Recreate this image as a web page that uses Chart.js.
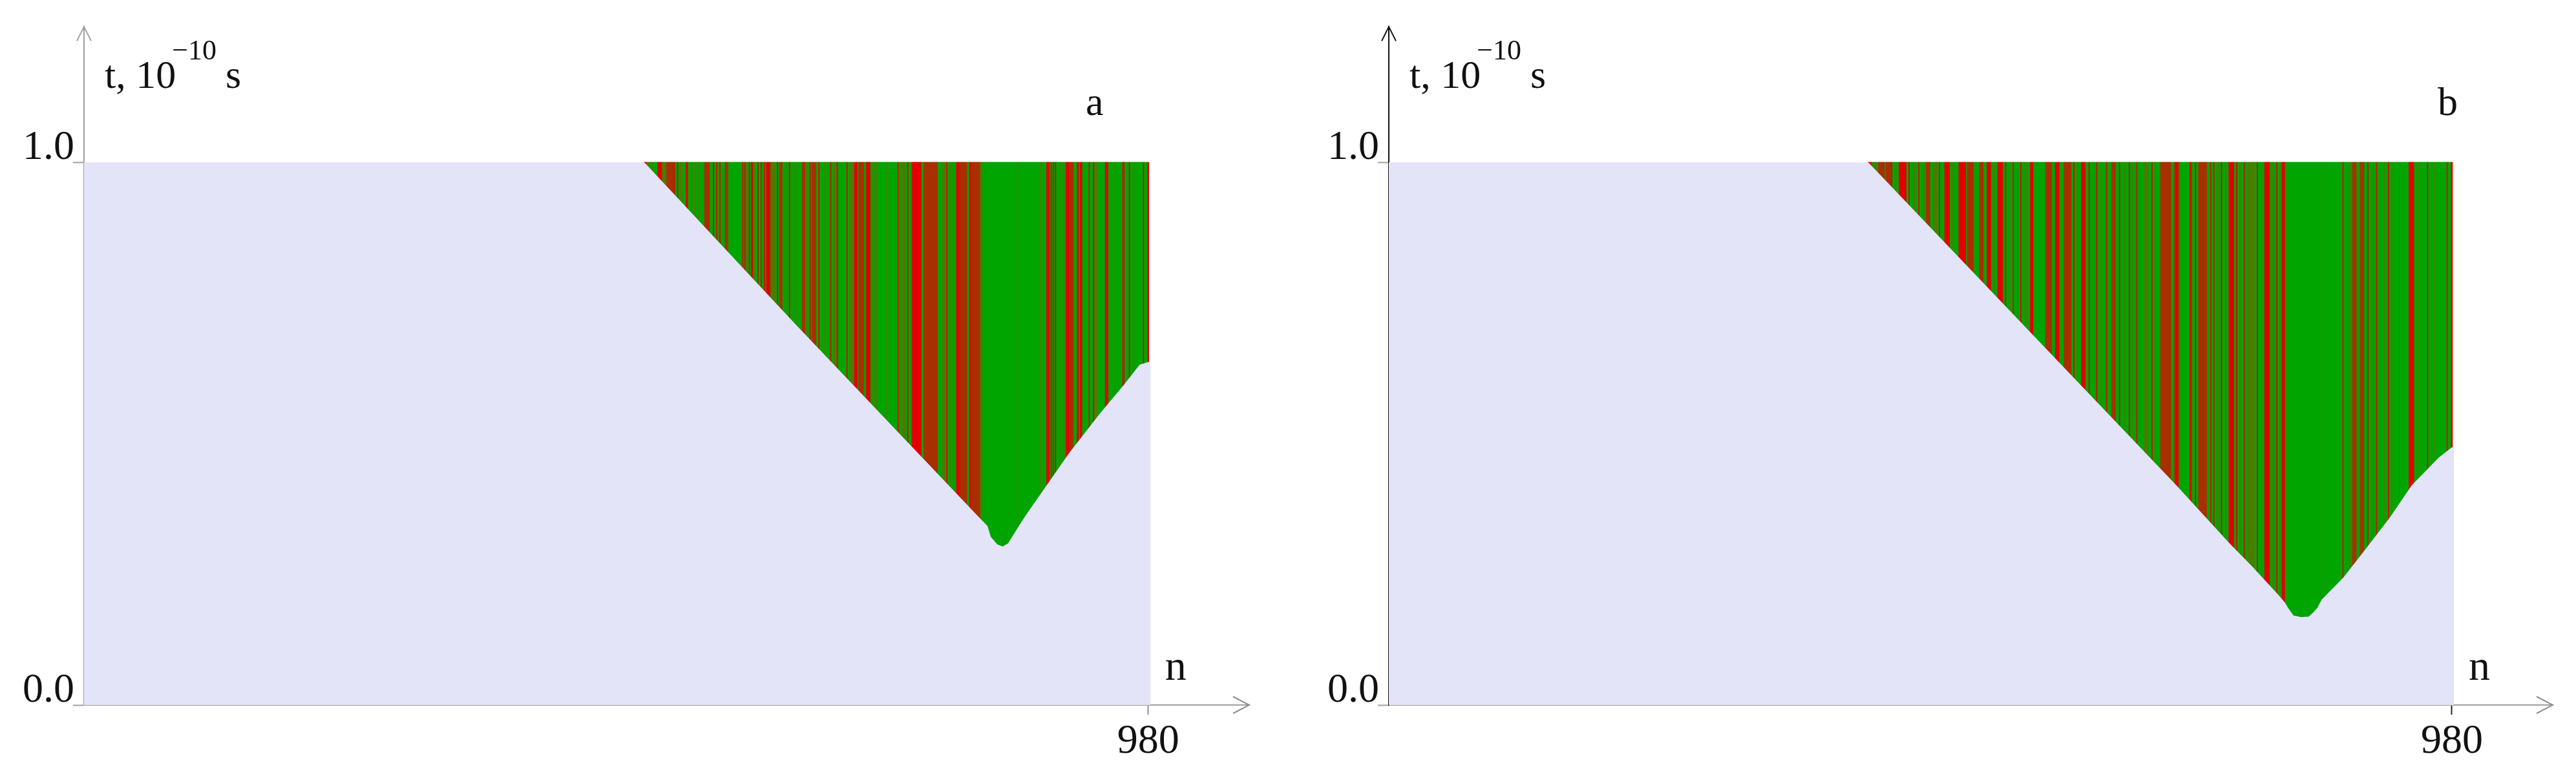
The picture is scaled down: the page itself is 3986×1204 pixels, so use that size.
<!DOCTYPE html>
<html>
<head>
<meta charset="utf-8">
<title>t(n)</title>
<script src="https://cdn.jsdelivr.net/npm/chart.js@4.4.1/dist/chart.umd.min.js"></script>
<style>
  body { margin: 0; background: #ffffff; }
  #wrap { position: relative; width: 3986px; height: 1204px; }
  .panel { position: absolute; top: 0; height: 1204px; }
  #panel-a { left: 0; width: 2019px; }
  #panel-b { left: 2019px; width: 1967px; }
</style>
</head>
<body>
<div id="wrap">
  <div class="panel" id="panel-a"><canvas id="chart-a"></canvas></div>
  <div class="panel" id="panel-b"><canvas id="chart-b"></canvas></div>
</div>
<script>
// Tick values on the axes
let xTicks = [980];
let yTicks = [0.0, 1.0];

// Last n on the axis, and the top of every stripe
let lastN = 980;
let topT = 1.0;

// Stripe classes and their colours (green, red, brown, olive)
let stripeClasses = ["G", "R", "B", "O"];
let stripeColours = ["#00a500", "#e30000", "#a83000", "#4f7a00"];
let lavender = "#e3e4f8";

// Panel a: first n with a stripe, lower edge of the stripes (n, t)
let firstA = 516;
let edgeNA = [0, 516, 655, 826, 832, 835, 841, 846, 851, 859, 867, 907, 935, 958, 972, 980, 982];
let edgeTA = [1.0, 1.0, 0.702, 0.342, 0.33, 0.31, 0.296, 0.292, 0.298, 0.324, 0.349, 0.464, 0.536, 0.591, 0.627, 0.632, 0.632];

// Panel a: non-green stripes [from n, to n, class]
let stripesA = [
    [516, 518, "R"], [520, 521, "O"], [524, 524, "O"], [529, 532, "R"], [533, 536, "O"], [537, 543, "B"],
    [544, 544, "R"], [547, 547, "R"], [549, 551, "O"], [555, 556, "R"], [560, 560, "O"], [563, 563, "O"],
    [566, 566, "O"], [572, 576, "B"], [580, 580, "R"], [583, 583, "R"], [585, 585, "O"], [586, 586, "R"],
    [591, 593, "B"], [607, 607, "R"], [609, 609, "R"], [610, 611, "O"], [613, 613, "R"], [615, 616, "R"],
    [618, 618, "O"], [621, 621, "R"], [624, 624, "R"], [626, 626, "O"], [627, 627, "R"], [629, 632, "R"],
    [634, 637, "O"], [639, 639, "R"], [641, 643, "B"], [648, 648, "O"], [650, 650, "R"], [652, 652, "O"],
    [657, 657, "O"], [662, 664, "B"], [666, 667, "O"], [669, 669, "R"], [671, 674, "B"], [677, 677, "R"],
    [682, 682, "O"], [688, 688, "R"], [691, 693, "O"], [694, 694, "R"], [703, 703, "R"], [706, 709, "O"],
    [710, 712, "R"], [714, 718, "B"], [721, 724, "R"], [726, 726, "O"], [729, 730, "O"], [739, 739, "O"],
    [750, 750, "R"], [751, 751, "O"], [754, 757, "O"], [759, 759, "R"], [763, 771, "R"], [774, 786, "B"],
    [791, 794, "O"], [795, 795, "R"], [798, 798, "O"], [801, 801, "O"], [804, 806, "R"], [807, 813, "B"],
    [816, 817, "R"], [818, 825, "B"], [826, 827, "O"], [860, 860, "O"], [881, 881, "O"], [887, 889, "R"],
    [891, 891, "R"], [893, 893, "R"], [895, 895, "R"], [899, 899, "O"], [903, 903, "O"], [905, 907, "R"],
    [908, 911, "B"], [915, 916, "R"], [918, 919, "R"], [926, 926, "R"], [930, 930, "R"], [931, 933, "O"],
    [941, 943, "R"], [950, 950, "O"], [957, 958, "R"], [963, 963, "R"], [967, 967, "O"], [976, 976, "R"],
    [980, 980, "R"]
];

// Panel b: first n with a stripe, lower edge of the stripes (n, t)
let firstB = 442;
let edgeNB = [0, 442, 726, 775, 797, 820, 826, 829, 834, 841, 848, 852, 856, 860, 880, 900, 923, 943, 968, 980, 982];
let edgeTB = [1.0, 1.0, 0.405, 0.298, 0.253, 0.203, 0.189, 0.179, 0.165, 0.162, 0.163, 0.17, 0.179, 0.194, 0.235, 0.286, 0.346, 0.405, 0.456, 0.475, 0.475];

// Panel b: non-green stripes [from n, to n, class]
let stripesB = [
    [442, 445, "R"], [447, 450, "O"], [452, 457, "B"], [459, 463, "B"], [464, 464, "R"], [468, 468, "O"],
    [471, 477, "R"], [480, 480, "R"], [484, 485, "O"], [489, 489, "R"], [494, 494, "O"], [496, 499, "B"],
    [503, 506, "O"], [508, 508, "R"], [513, 517, "R"], [520, 520, "O"], [526, 532, "R"], [534, 539, "B"],
    [541, 541, "O"], [545, 548, "B"], [552, 555, "R"], [559, 559, "O"], [562, 566, "R"], [569, 569, "R"],
    [573, 573, "O"], [576, 576, "R"], [580, 580, "O"], [583, 583, "R"], [587, 588, "O"], [592, 594, "R"],
    [606, 611, "B"], [615, 618, "R"], [623, 629, "B"], [632, 632, "R"], [635, 635, "O"], [639, 642, "R"],
    [646, 646, "R"], [650, 650, "O"], [653, 653, "R"], [656, 656, "O"], [662, 662, "R"], [667, 670, "B"],
    [674, 674, "R"], [679, 679, "O"], [683, 683, "R"], [686, 686, "O"], [690, 690, "R"], [697, 700, "O"],
    [704, 704, "R"], [707, 707, "O"], [712, 721, "B"], [725, 728, "R"], [739, 740, "R"], [744, 744, "R"],
    [747, 754, "B"], [758, 758, "R"], [761, 761, "R"], [765, 765, "O"], [768, 768, "R"], [772, 772, "O"],
    [775, 779, "R"], [782, 782, "R"], [786, 786, "O"], [789, 789, "R"], [793, 798, "O"], [801, 801, "R"],
    [805, 805, "O"], [808, 812, "R"], [815, 815, "O"], [819, 819, "R"], [822, 822, "O"], [824, 826, "R"],
    [862, 862, "O"], [880, 880, "R"], [887, 887, "O"], [889, 892, "B"], [896, 899, "B"], [903, 903, "R"],
    [908, 908, "O"], [911, 911, "R"], [918, 918, "O"], [922, 922, "R"], [925, 925, "O"], [941, 945, "R"],
    [950, 950, "O"], [958, 958, "R"], [964, 964, "O"], [976, 976, "R"], [980, 980, "R"]
];

const serif = "'Liberation Serif', 'Times New Roman', serif";

function stripeColour(stripes, n) {
    for (let i = 0; i < stripes.length; i++) {
        if (n >= stripes[i][0] && n <= stripes[i][1]) {
            return stripeColours[stripeClasses.indexOf(stripes[i][2])];
        }
    }
    return stripeColours[0];
}

function buildBars(first, stripes) {
    let points = [];
    let colours = [];
    for (let n = first; n <= lastN; n++) {
        points.push({ x: n, y: topT });
        colours.push(stripeColour(stripes, n));
    }
    return { points: points, colours: colours };
}

function buildEdge(ns, ts) {
    return ns.map((n, i) => ({ x: n, y: ts[i] }));
}

// Arrow heads, axis titles and the panel letter
const decorPlugin = {
    id: "decor",
    afterDraw(chart, args, opts) {
        const ctx = chart.ctx;
        const area = chart.chartArea;
        const xs = chart.scales.x;
        ctx.save();
        ctx.lineWidth = 2;
        // x arrow
        ctx.strokeStyle = opts.xColour;
        ctx.beginPath();
        ctx.moveTo(area.right - 25, area.bottom - 13);
        ctx.lineTo(area.right, area.bottom);
        ctx.lineTo(area.right - 25, area.bottom + 13);
        ctx.stroke();
        // y arrow
        ctx.strokeStyle = opts.yColour;
        ctx.beginPath();
        ctx.moveTo(area.left - 11, area.top + 22);
        ctx.lineTo(area.left, area.top);
        ctx.lineTo(area.left + 11, area.top + 22);
        ctx.stroke();

        ctx.fillStyle = "#111";
        ctx.textBaseline = "alphabetic";
        ctx.textAlign = "left";
        // y title: t, 10^-10 s
        ctx.font = "62px " + serif;
        let tx = area.left + 32;
        let ty = area.top + 95;
        ctx.fillText("t, 10", tx, ty);
        tx += ctx.measureText("t, 10").width - 6;
        ctx.font = "44px " + serif;
        ctx.fillText("\u221210", tx, ty - 44);
        tx += ctx.measureText("\u221210").width + 14;
        ctx.font = "62px " + serif;
        ctx.fillText("s", tx, ty);
        // x title
        ctx.font = "66px " + serif;
        ctx.fillText("n", xs.getPixelForValue(lastN) + 26, area.bottom - 39);
        // panel letter
        ctx.font = "62px " + serif;
        ctx.fillText(opts.letter, area.left + opts.letterX, area.top + 137);
        ctx.restore();
    }
};

function makeChart(canvasId, first, stripes, edgeN, edgeT, padRight, yColour, xTickColour, letter, letterX) {
    const bars = buildBars(first, stripes);
    return new Chart(canvasId, {
        type: "bar",
        data: {
            datasets: [
                {
                    type: "line",
                    data: buildEdge(edgeN, edgeT),
                    backgroundColor: lavender,
                    borderWidth: 0,
                    pointRadius: 0,
                    fill: "origin",
                    tension: 0,
                    order: 0
                },
                {
                    type: "bar",
                    data: bars.points,
                    backgroundColor: bars.colours,
                    borderWidth: 0,
                    barPercentage: 1.0,
                    categoryPercentage: 1.0,
                    inflateAmount: 0.6,
                    order: 1
                }
            ]
        },
        options: {
            responsive: true,
            maintainAspectRatio: false,
            animation: false,
            devicePixelRatio: 1,
            layout: { padding: { left: 35, top: 38, right: padRight, bottom: 0 } },
            scales: {
                x: {
                    type: "linear",
                    min: 0,
                    max: 1073,
                    offset: false,
                    afterBuildTicks: s => { s.ticks = xTicks.map(v => ({ value: v })); },
                    afterFit: s => { s.height = 113; },
                    ticks: {
                        autoSkip: false,
                        maxRotation: 0,
                        padding: 4,
                        color: "#111",
                        font: { family: serif, size: 64 }
                    },
                    grid: {
                        offset: false,
                        drawOnChartArea: false,
                        drawTicks: true,
                        tickLength: 15,
                        tickWidth: 2,
                        tickColor: xTickColour
                    },
                    border: { display: true, color: "#a0a0a0", width: 2 }
                },
                y: {
                    type: "linear",
                    min: 0,
                    max: 1.25,
                    afterBuildTicks: s => { s.ticks = yTicks.map(v => ({ value: v })); },
                    afterFit: s => { s.width = 95; },
                    ticks: {
                        callback: v => v.toFixed(1),
                        crossAlign: "far",
                        labelOffset: -22,
                        padding: 3,
                        color: "#111",
                        font: { family: serif, size: 64 }
                    },
                    grid: {
                        drawOnChartArea: false,
                        drawTicks: true,
                        tickLength: 17,
                        tickWidth: 2,
                        tickColor: "#a0a0a0"
                    },
                    border: { display: true, color: yColour, width: 2 }
                }
            },
            plugins: {
                legend: { display: false },
                tooltip: { enabled: false },
                decor: { xColour: "#909090", yColour: yColour, letter: letter, letterX: letterX }
            }
        },
        plugins: [decorPlugin]
    });
}

makeChart("chart-a", firstA, stripesA, edgeNA, edgeTA, 86, "#a0a0a0", "#909090", "a", 1550);
makeChart("chart-b", firstB, stripesB, edgeNB, edgeTB, 36, "#111111", "#222222", "b", 1623);
</script>
</body>
</html>
